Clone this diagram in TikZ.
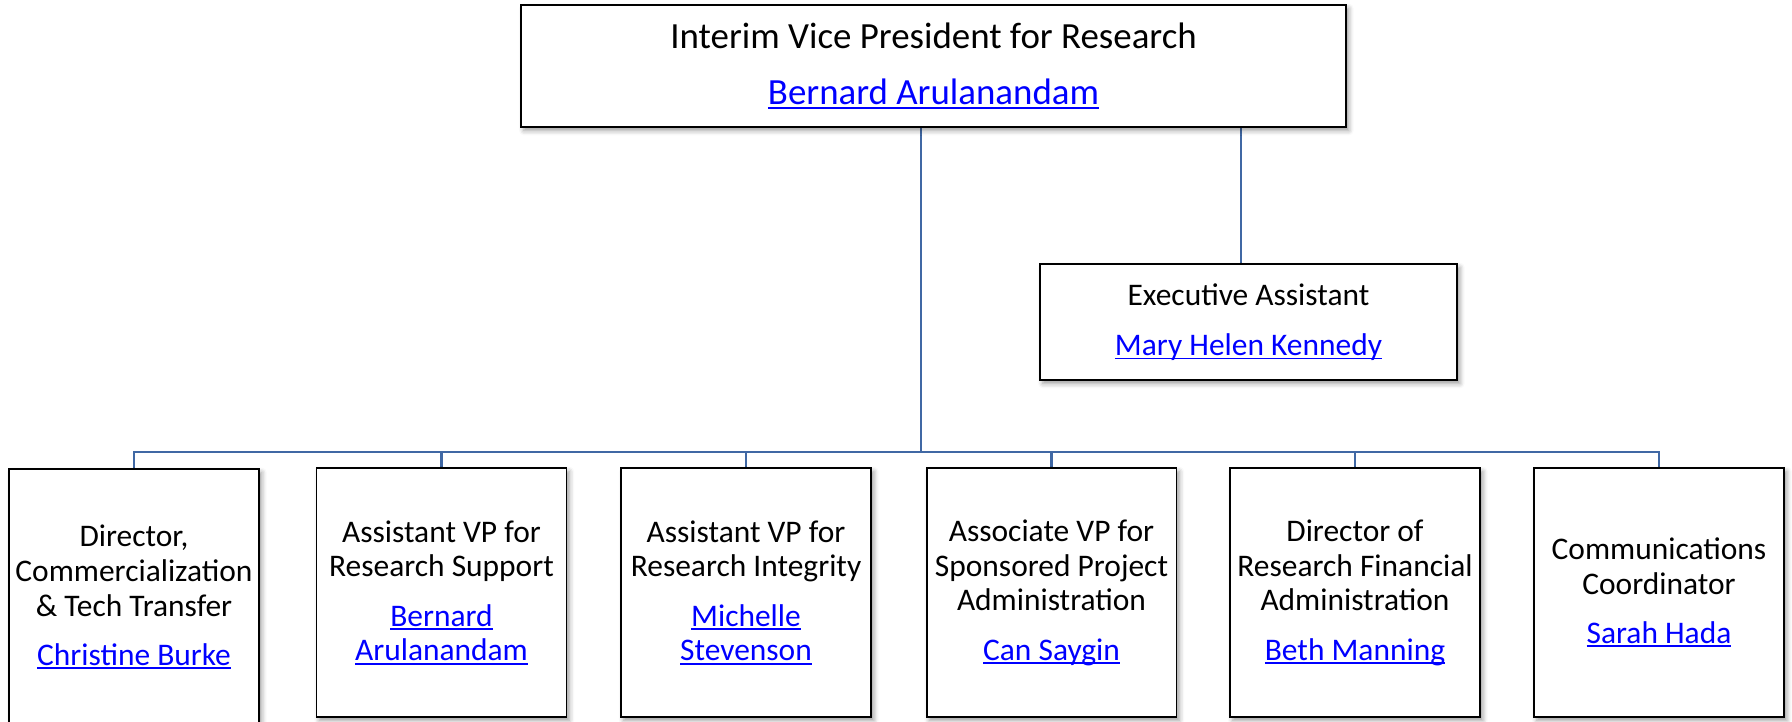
\documentclass[tikz,border=0pt]{standalone}
\usepackage{fontspec}
\setmainfont{Carlito}
\usepackage{tikz}
\usetikzlibrary{calc,shadows.blur,backgrounds}

\definecolor{linkblue}{RGB}{0,0,255}
\definecolor{orgline}{RGB}{64,104,164}
\newcommand{\lnk}[1]{{\color{linkblue}\setbox0\hbox{#1}\rlap{\rule[-0.12em]{\wd0}{0.06em}}\box0}}

\begin{document}
\begin{tikzpicture}[
    x=0.02cm, y=-0.02cm,
    font=\fontsize{17.9}{19.8}\selectfont,
    post/.style={draw, line width=1.1pt, fill=white, align=center, inner sep=0pt,
      blur shadow={shadow xshift=1.6pt, shadow yshift=-2pt, shadow blur radius=2.8pt}},
    unit/.style={post, minimum width=5cm, minimum height=4.98cm},
    conn/.style={draw=orgline, line width=1.5pt}
  ]
    \useasboundingbox (0,0) rectangle (1792,721);

    \node[post, minimum width=16.5cm, minimum height=2.44cm, font=\fontsize{21}{23}\selectfont] (vp) at (933.5,66)
      {Interim Vice President for Research\\[8.7pt]\lnk{Bernard Arulanandam}};
    \node[post, minimum width=8.34cm, minimum height=2.32cm] (assist) at (1248.5,322)
      {Executive Assistant\\[9pt]\lnk{Mary Helen Kennedy}};

    \node[unit, minimum height=5.12cm] (commerce) at (134,597)
      {Director,\\Commercialization\\\& Tech Transfer\\[8.2pt]\lnk{Christine Burke}};
    \node[unit] (support) at (441.5,592.5)
      {Assistant VP for\\Research Support\\[8.2pt]\lnk{Bernard}\\\lnk{Arulanandam}};
    \node[unit] (integrity) at (746,592.5)
      {Assistant VP for\\Research Integrity\\[8.2pt]\lnk{Michelle}\\\lnk{Stevenson}};
    \node[unit] (sponsored) at (1051.5,592.5)
      {Associate VP for\\Sponsored Project\\Administration\\[8.2pt]\lnk{Can Saygin}};
    \node[unit] (finance) at (1355,592.5)
      {Director of\\Research Financial\\Administration\\[8.2pt]\lnk{Beth Manning}};
    \node[unit] (comms) at (1659,592.5)
      {Communications\\Coordinator\\[8.2pt]\lnk{Sarah Hada}};

    \coordinate (hub) at (921,452);
    \coordinate (tap) at (1241,200);

    \begin{scope}[on background layer]
      \draw[conn] (vp.south -| hub) -- (hub);
      \draw[conn] (vp.south -| tap) -- (assist.north -| tap);
      \draw[conn] (hub) -| (commerce.north);
      \draw[conn] (hub) -| (support.north);
      \draw[conn] (hub) -| (integrity.north);
      \draw[conn] (hub) -| (sponsored.north);
      \draw[conn] (hub) -| (finance.north);
      \draw[conn] (hub) -| (comms.north);
    \end{scope}
  \end{tikzpicture}
\end{document}
